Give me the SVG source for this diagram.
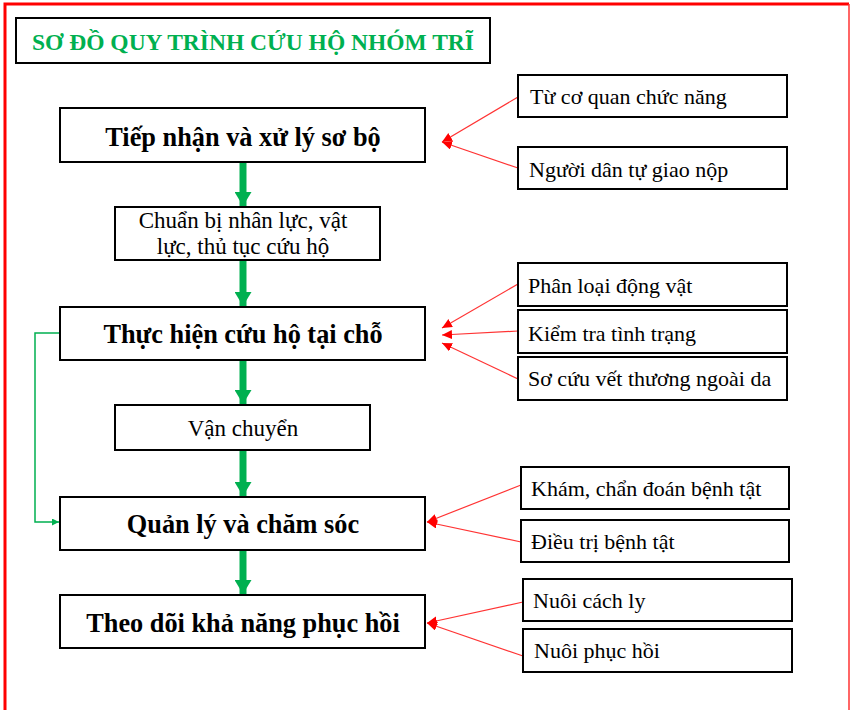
<svg xmlns="http://www.w3.org/2000/svg" width="850" height="710" viewBox="0 0 850 710">
<style>
.box{fill:#fff;stroke:#000;stroke-width:2}
.t{font-family:"Liberation Serif","Times New Roman",serif;fill:#000}
.b{font-weight:bold;font-size:26.3px;text-anchor:middle}
.n{font-size:22px}
.nc{font-size:23px;text-anchor:middle}
.title{font-family:"Liberation Serif","Times New Roman",serif;font-weight:bold;font-size:23.5px;fill:#00B050}
.red{stroke:#FF3333;stroke-width:1.2;fill:none;marker-end:url(#ra)}
.gr{stroke:#00B050;stroke-width:7;fill:none;marker-end:url(#ga)}
</style>
<defs>
<marker id="ra" markerWidth="12" markerHeight="10" refX="10" refY="4.5" orient="auto" markerUnits="userSpaceOnUse">
<path d="M0,0 L10,4.5 L0,9 Z" fill="#FF0000"/>
</marker>
<marker id="ga" markerWidth="18" markerHeight="15" refX="8.5" refY="14" orient="0" markerUnits="userSpaceOnUse">
<path d="M0,0 L17,0 L8.5,14 Z" fill="#00B050"/>
</marker>
<marker id="gs" markerWidth="8" markerHeight="8" refX="7" refY="3.5" orient="auto" markerUnits="userSpaceOnUse">
<path d="M0,0 L7,3.5 L0,7 Z" fill="#00B050"/>
</marker>
</defs>
<rect x="0" y="0" width="850" height="710" fill="#fff"/>
<g id="frame">
<path d="M5,710 L5,4 L849,4" fill="none" stroke="#FF0000" stroke-width="3"/>
<path d="M849,4 L849,710" fill="none" stroke="#FF3333" stroke-width="1.5"/>
</g>
<g id="title">
<rect class="box" x="16" y="18" width="474" height="45"/>
<text class="title" x="253" y="50" text-anchor="middle">SƠ ĐỒ QUY TRÌNH CỨU HỘ NHÓM TRĨ</text>
</g>
<g id="connectors">
<line class="gr" x1="243" y1="162" x2="243" y2="206"/>
<line class="gr" x1="243" y1="261" x2="243" y2="306"/>
<line class="gr" x1="243" y1="361" x2="243" y2="404"/>
<line class="gr" x1="243" y1="451" x2="243" y2="496"/>
<line class="gr" x1="243" y1="550" x2="243" y2="594"/>
<path d="M60,333 L35,333 L35,522 L59,522" stroke="#00B050" stroke-width="1.5" fill="none" marker-end="url(#gs)"/>
<line class="red" x1="518" y1="97" x2="442" y2="142"/>
<line class="red" x1="518" y1="168" x2="442" y2="142"/>
<line class="red" x1="518" y1="284" x2="442" y2="328"/>
<line class="red" x1="518" y1="331" x2="442" y2="335"/>
<line class="red" x1="518" y1="379" x2="442" y2="343"/>
<line class="red" x1="521" y1="485" x2="427" y2="522"/>
<line class="red" x1="521" y1="542" x2="427" y2="522"/>
<line class="red" x1="523" y1="602" x2="427" y2="623"/>
<line class="red" x1="523" y1="656" x2="427" y2="623"/>
</g>
<g id="n1">
<rect class="box" x="60" y="108" width="365" height="54"/>
<text class="t b" x="243" y="146">Tiếp nhận và xử lý sơ bộ</text>
</g>
<g id="n2">
<rect class="box" x="115" y="207" width="265" height="53"/>
<text class="t nc" x="243" y="228">Chuẩn bị nhân lực, vật</text>
<text class="t nc" x="243" y="254">lực, thủ tục cứu hộ</text>
</g>
<g id="n3">
<rect class="box" x="60" y="307" width="365" height="53"/>
<text class="t b" x="243" y="343">Thực hiện cứu hộ tại chỗ</text>
</g>
<g id="n4">
<rect class="box" x="115" y="405" width="255" height="45"/>
<text class="t nc" x="243" y="436">Vận chuyển</text>
</g>
<g id="n5">
<rect class="box" x="60" y="497" width="365" height="53"/>
<text class="t b" x="243" y="533">Quản lý và chăm sóc</text>
</g>
<g id="n6">
<rect class="box" x="60" y="595" width="365" height="53"/>
<text class="t b" x="243" y="632">Theo dõi khả năng phục hồi</text>
</g>
<g id="s1">
<rect class="box" x="518" y="75" width="269" height="42"/>
<text class="t n" x="530" y="104">Từ cơ quan chức năng</text>
</g>
<g id="s2">
<rect class="box" x="518" y="147" width="269" height="42"/>
<text class="t n" x="529" y="177">Người dân tự giao nộp</text>
</g>
<g id="s3">
<rect class="box" x="518" y="263" width="269" height="43"/>
<text class="t n" x="528" y="293">Phân loại động vật</text>
</g>
<g id="s4">
<rect class="box" x="518" y="310" width="269" height="43"/>
<text class="t n" x="528" y="341">Kiểm tra tình trạng</text>
</g>
<g id="s5">
<rect class="box" x="518" y="357" width="269" height="43"/>
<text class="t n" x="528" y="386">Sơ cứu vết thương ngoài da</text>
</g>
<g id="s6">
<rect class="box" x="521" y="467" width="268" height="42"/>
<text class="t n" x="531" y="496">Khám, chẩn đoán bệnh tật</text>
</g>
<g id="s7">
<rect class="box" x="521" y="520" width="268" height="42"/>
<text class="t n" x="531" y="549">Điều trị bệnh tật</text>
</g>
<g id="s8">
<rect class="box" x="523" y="579" width="269" height="42"/>
<text class="t n" x="533" y="608">Nuôi cách ly</text>
</g>
<g id="s9">
<rect class="box" x="523" y="629" width="269" height="43"/>
<text class="t n" x="534" y="658">Nuôi phục hồi</text>
</g>
</svg>
